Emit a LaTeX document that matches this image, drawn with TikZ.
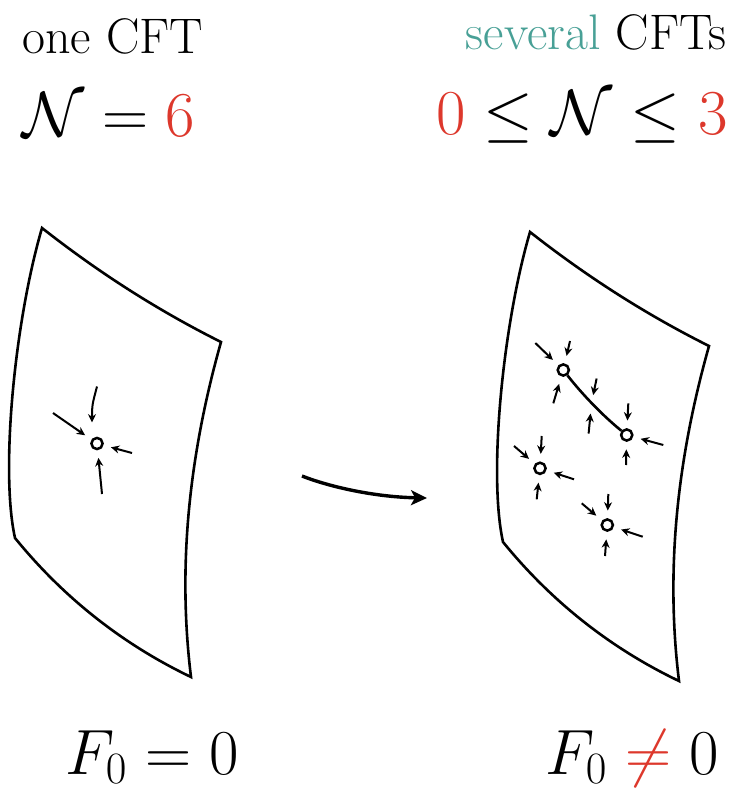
\RequirePackage{fix-cm}
\documentclass[tikz,border=0pt]{standalone}
\usepackage{amsmath, amssymb}
\usepackage{xcolor}
\usetikzlibrary{arrows.meta, calc}
\definecolor{cftred}{RGB}{221,56,44}
\definecolor{cftteal}{RGB}{72,160,150}

\tikzset{
    % one curved sheet (theory space), drawn at the left position
    sheet/.pic={
        \draw[line width=1.3pt]
            (42,228) .. controls (98,272) and (157,310) .. (221,342)
                     .. controls (190,452) and (177,563) .. (191,677)
                     .. controls (122,644) and (63,597) .. (15,538)
                     .. controls (0,470) and (15,320) .. cycle;
    }
}

\begin{document}
\begin{tikzpicture}[
        x=0.5pt, y=-0.5pt,
        % --- Style Definitions ---
        label_text/.style={inner sep=0pt, font=\fontsize{25}{30}\selectfont},
        label_math/.style={inner sep=0pt, font=\fontsize{32}{38}\selectfont},
        fixed_pt/.style={circle, draw, line width=1.25pt, minimum size=5.6pt, inner sep=0pt},
        inflow/.style={-{Stealth[length=4.2pt, width=4pt]}, line width=1pt, shorten >=3.8pt},
        fp_line/.style={line width=1.3pt},
        rg_arrow/.style={-{Stealth[length=8pt, width=7.5pt, inset=2pt]}, line width=1.7pt}
    ]
    \useasboundingbox (0,0) rectangle (747,796);

    % --- Headings ---
    \node[label_text, anchor=base west] (one_cft) at (22,54) {one CFT};
    \node[label_text, anchor=base east] (several_cft) at (727,50) {\textcolor{cftteal}{several} CFTs};
    \node[label_math, anchor=base west] (n_one) at (22,137) {$\mathcal{N} = {\color{cftred}6}$};
    \node[label_math, anchor=base east] (n_several) at (728,135) {${\color{cftred}0} \leq \mathcal{N} \leq {\color{cftred}3}$};

    % --- Left sheet: a single fixed point ---
    \pic at (0,0) {sheet};
    \node[fixed_pt] (fp_one) at (97,443.5) {};
    \draw[inflow, shorten >=0pt] ($(fp_one)+(0,-57)$) .. controls ($(fp_one)+(-5,-38)$) .. ($(fp_one)+(-5,-21)$);
    \draw[inflow] ($(fp_one)+(-44,-30.5)$) -- (fp_one);
    \draw[inflow] ($(fp_one)+(35,9.5)$) -- (fp_one);
    \draw[inflow] ($(fp_one)+(5,50.5)$) -- (fp_one);

    % --- Flow between the two sheets ---
    \coordinate (rg_start) at (302,476);
    \coordinate (rg_end) at (427,498);
    \draw[rg_arrow] (rg_start) .. controls (330,487) and (375,497) .. (rg_end);

    % --- Right sheet: several fixed points ---
    \pic at (488,4) {sheet};
    \node[fixed_pt] (fp_a) at (563.3,370) {};
    \node[fixed_pt] (fp_b) at (626.7,435) {};
    \node[fixed_pt] (fp_c) at (540,468.3) {};
    \node[fixed_pt] (fp_d) at (607.3,525) {};

    % line of fixed points from a to b
    \draw[fp_line] (fp_a) .. controls ($(fp_a)!0.33!(fp_b)+(-2,3)$) and ($(fp_a)!0.67!(fp_b)+(-2,3)$) .. (fp_b);
    \coordinate (mid_ab) at ($(fp_a)!0.47!(fp_b)+(-1.5,2)$);
    \draw[inflow] ($(mid_ab)+(5,-24)$) -- (mid_ab);
    \draw[inflow, shorten >=5.5pt] ($(mid_ab)+(-3,31)$) -- (mid_ab);

    \draw[inflow] ($(fp_a)+(-28,-27)$) -- (fp_a);
    \draw[inflow] ($(fp_a)+(6.7,-29)$) -- (fp_a);
    \draw[inflow] ($(fp_a)+(-10,33.3)$) -- (fp_a);

    \draw[inflow] ($(fp_b)+(1.6,-31.7)$) -- (fp_b);
    \draw[inflow] ($(fp_b)+(36.6,10)$) -- (fp_b);
    \draw[inflow] ($(fp_b)+(-0.7,30)$) -- (fp_b);

    \draw[inflow] ($(fp_c)+(-26,-22.3)$) -- (fp_c);
    \draw[inflow] ($(fp_c)+(1.7,-32.3)$) -- (fp_c);
    \draw[inflow] ($(fp_c)+(34,11)$) -- (fp_c);
    \draw[inflow] ($(fp_c)+(-3.3,31)$) -- (fp_c);

    \draw[inflow] ($(fp_d)+(-25.6,-21.7)$) -- (fp_d);
    \draw[inflow] ($(fp_d)+(1,-31)$) -- (fp_d);
    \draw[inflow] ($(fp_d)+(35.4,11.7)$) -- (fp_d);
    \draw[inflow] ($(fp_d)+(-2.3,31)$) -- (fp_d);

    % --- Free energy ---
    \node[label_math, anchor=base west] (f_zero) at (65,774) {$F_0 = 0$};
    \node[label_math, anchor=base west] (f_nonzero) at (545,774) {$F_0 \mathrel{\color{cftred}\neq} 0$};

\end{tikzpicture}
\end{document}
